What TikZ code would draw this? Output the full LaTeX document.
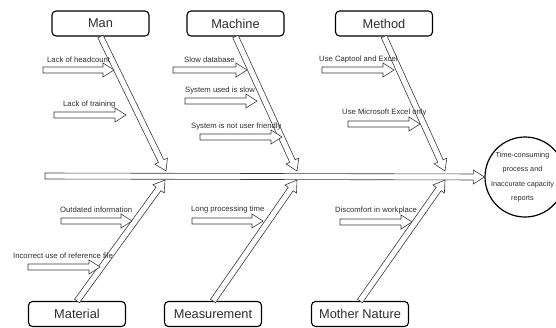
\documentclass[tikz,border=0pt]{standalone}
\usepackage{fontspec}
\setmainfont{Liberation Sans}
\usetikzlibrary{calc}
\definecolor{fbink}{HTML}{3A3A3A}
\definecolor{fbtext}{HTML}{2E2E2E}

\newcommand{\blockarrow}[2]{%
  \coordinate (hb) at ($(#2)!11pt!(#1)$);
  \draw[bone] ($(#1)!3pt!90:(#2)$) -- ($(hb)!3pt!90:(#2)$) -- ($(hb)!7pt!90:(#2)$) -- (#2)
    -- ($(hb)!7pt!-90:(#2)$) -- ($(hb)!3pt!-90:(#2)$) -- ($(#1)!3pt!-90:(#2)$) -- cycle;}

\begin{document}
\begin{tikzpicture}[
  x=1pt, y=-1pt,
  bone/.style   = {draw=fbink, line width=0.6pt, fill=white},
  cat/.style    = {rectangle, rounded corners=4pt, draw=black, line width=1.1pt, fill=white,
                   minimum width=97pt, minimum height=25pt, inner sep=0pt,
                   font=\fontsize{12.8}{14}\selectfont, text=fbtext},
  cause/.style  = {anchor=west, inner sep=0pt, font=\fontsize{7.7}{9}\selectfont, text=fbtext},
  effect/.style = {circle, draw=black, line width=1.2pt, fill=white, minimum size=80pt, inner sep=0pt},
  efftext/.style = {align=center, inner sep=0pt, xshift=-2.5pt, font=\fontsize{7.3}{14.5}\selectfont, text=fbtext},
]
\useasboundingbox (0,0) rectangle (556,327);

\node[effect, label={[efftext]center:Time-consuming\\process and\\Inaccurate capacity\\reports}] (effect) at (525,177) {};
\coordinate (tail) at (45,176);
\blockarrow{tail}{effect.west}

\node[cat] (man)     at (100.5,23.5) {Man};
\node[cat] (machine) at (235.5,23.5) {Machine};
\node[cat] (method)  at (384,23.5)   {Method};
\node[cat] (material) at (77,314)    {Material};
\node[cat] (measure)  at (213,314)   {Measurement};
\node[cat] (nature)   at (360,314)   {Mother Nature};

\coordinate (t1) at (166,171);
\coordinate (t2) at (297,171);
\coordinate (t3) at (445,171);
\coordinate (b1) at (165,180);
\coordinate (b2) at (297,180);
\coordinate (b3) at (445,180);
\blockarrow{man.south}{t1}
\blockarrow{machine.south}{t2}
\blockarrow{method.south}{t3}
\blockarrow{material.north}{b1}
\blockarrow{measure.north}{b2}
\blockarrow{nature.north}{b3}

\coordinate (hc0) at (43,70);   \coordinate (hc1) at (114,70);
\coordinate (lt0) at (54,115);  \coordinate (lt1) at (126,115);
\coordinate (sd0) at (173,70);  \coordinate (sd1) at (247,70);
\coordinate (ss0) at (185,101); \coordinate (ss1) at (257,101);
\coordinate (uf0) at (200,137); \coordinate (uf1) at (282,137);
\coordinate (ce0) at (322,70);  \coordinate (ce1) at (394,70);
\coordinate (me0) at (348,124); \coordinate (me1) at (420,124);
\coordinate (oi0) at (61,221);  \coordinate (oi1) at (132,221);
\coordinate (rf0) at (28,267);  \coordinate (rf1) at (100,267);
\coordinate (lp0) at (192,221); \coordinate (lp1) at (263,221);
\coordinate (dw0) at (340,222); \coordinate (dw1) at (412,222);
\blockarrow{hc0}{hc1}
\blockarrow{lt0}{lt1}
\blockarrow{sd0}{sd1}
\blockarrow{ss0}{ss1}
\blockarrow{uf0}{uf1}
\blockarrow{ce0}{ce1}
\blockarrow{me0}{me1}
\blockarrow{oi0}{oi1}
\blockarrow{rf0}{rf1}
\blockarrow{lp0}{lp1}
\blockarrow{dw0}{dw1}

\node[cause] (hc) at (47,60)  {Lack of headcount};
\node[cause] (lt) at (63,105) {Lack of training};
\node[cause] (sd) at (184,60) {Slow database};
\node[cause] (ss) at (185,91) {System used is slow};
\node[cause] (uf) at (191,127) {System is not user friendly};
\node[cause] (ce) at (319,60) {Use Captool and Excel};
\node[cause] (me) at (342,113) {Use Microsoft Excel only};
\node[cause] (oi) at (60,210) {Outdated information};
\node[cause] (rf) at (13,256) {Incorrect use of reference file};
\node[cause] (lp) at (191,210) {Long processing time};
\node[cause] (dw) at (335,211) {Discomfort in workplace};
\end{tikzpicture}
\end{document}
